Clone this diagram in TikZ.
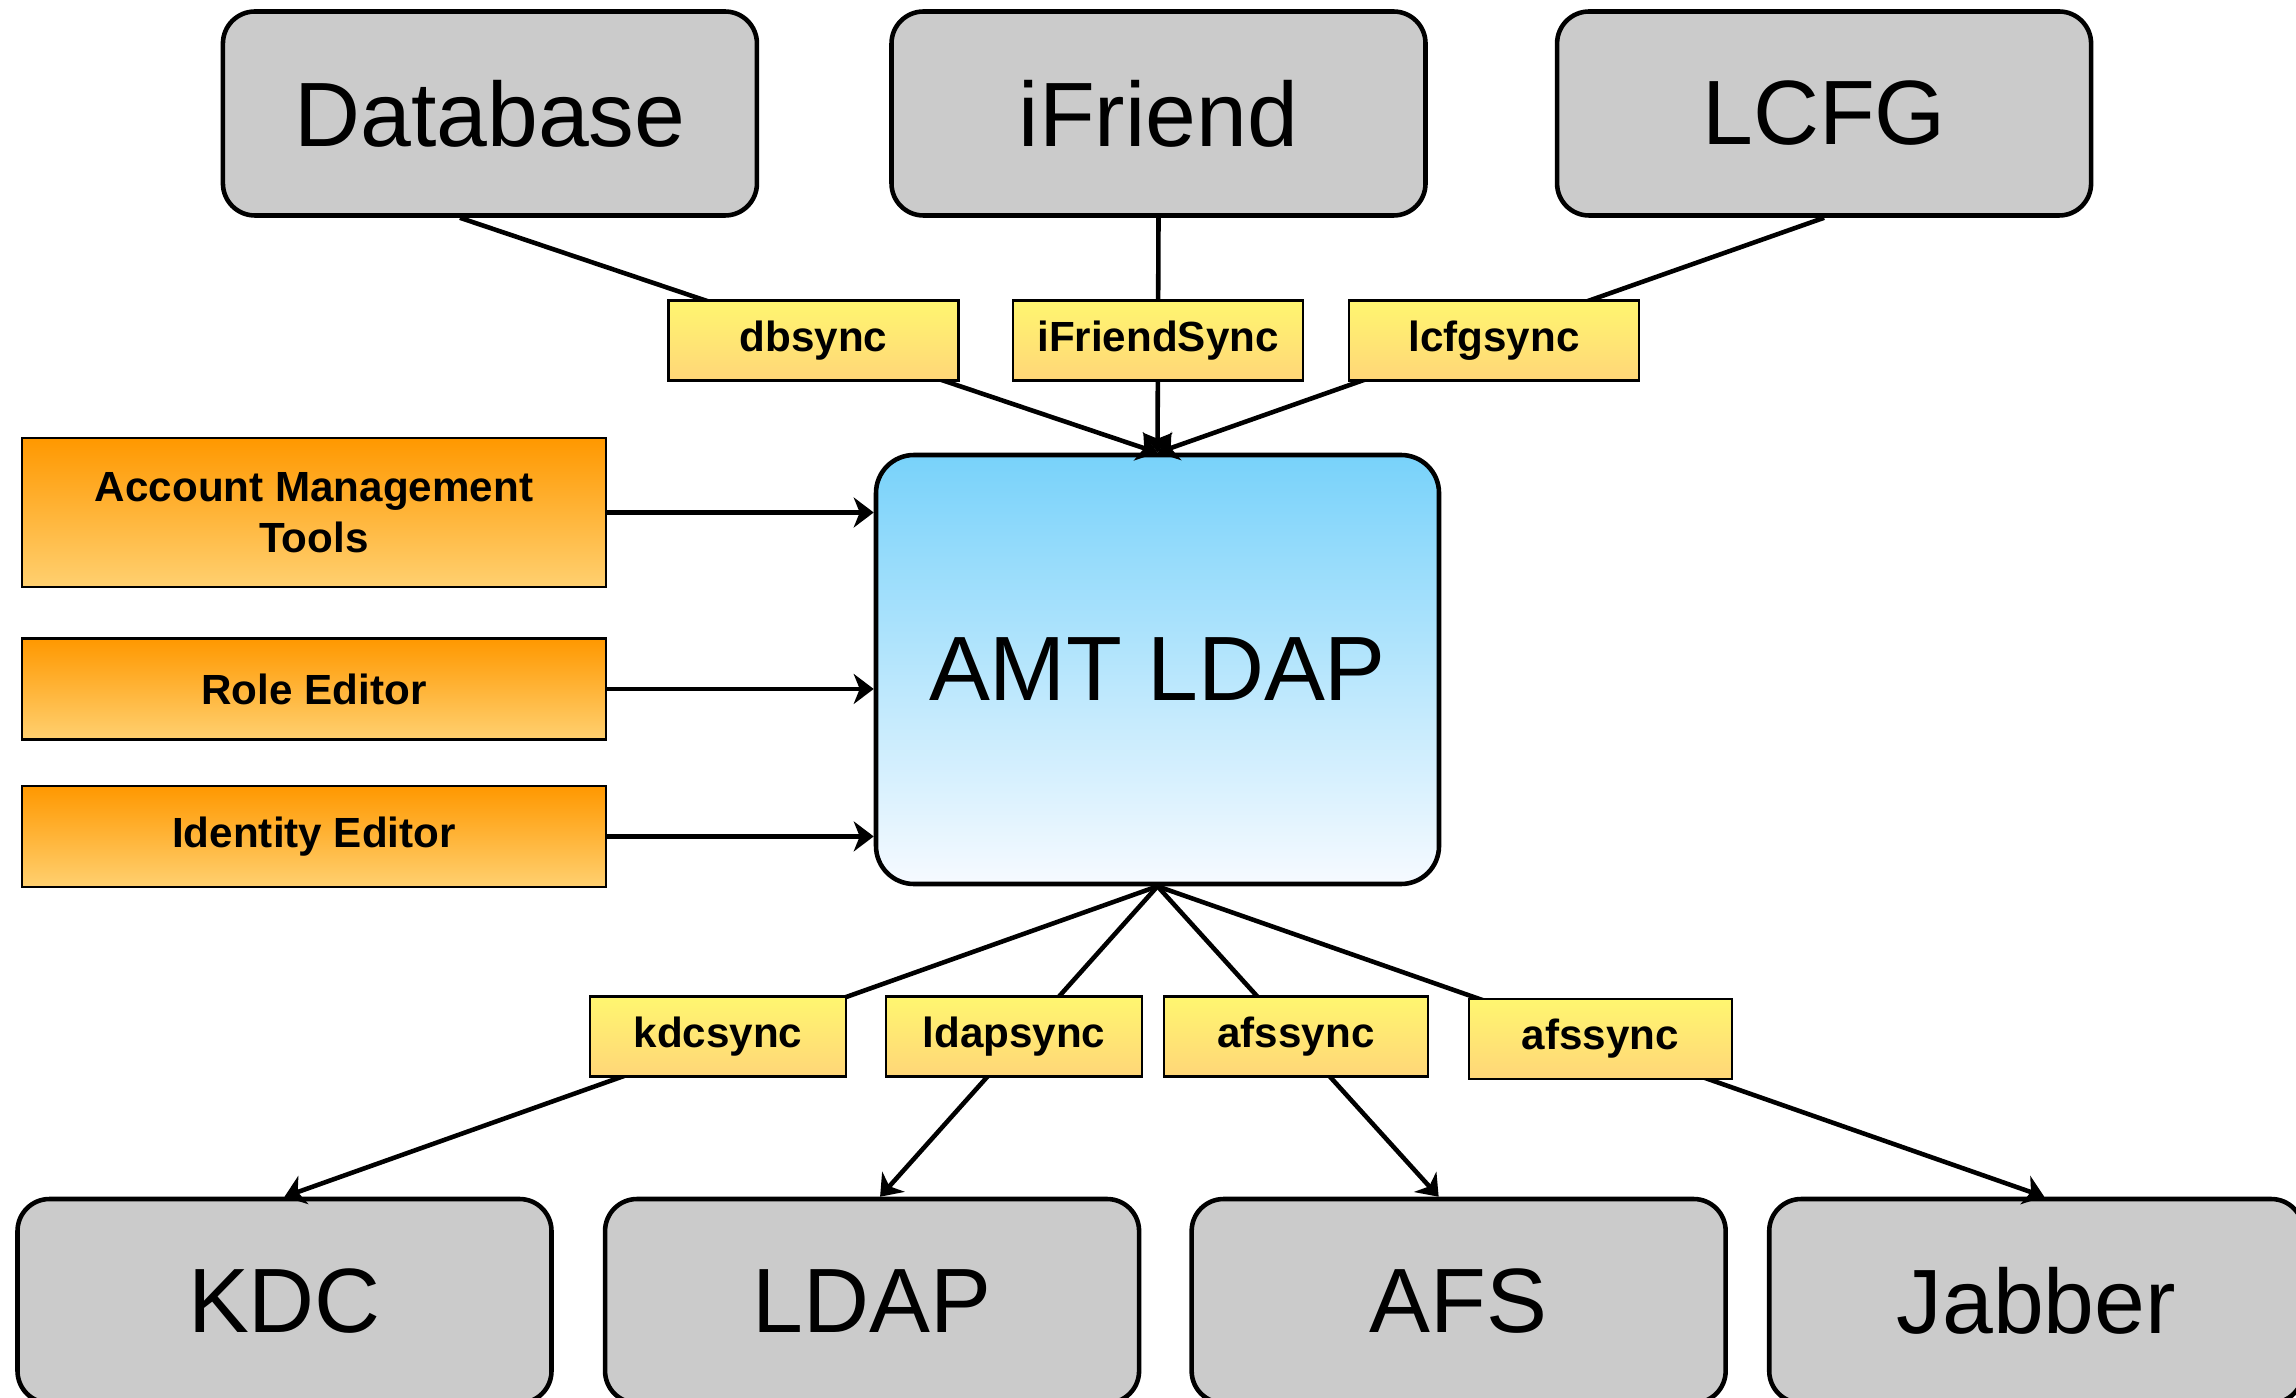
\documentclass[tikz,border=0pt]{standalone}
\usepackage{fontspec}
\setmainfont{Liberation Sans}
\usepackage{tikz}
\usetikzlibrary{shapes,arrows.meta,positioning,calc}
\definecolor{box-gray}{RGB}{203,203,203}
\definecolor{hub-top}{RGB}{120,210,250}
\definecolor{hub-bottom}{RGB}{246,250,255}
\definecolor{tool-top}{RGB}{255,152,0}
\definecolor{tool-bottom}{RGB}{255,208,112}
\definecolor{sync-top}{RGB}{255,246,112}
\definecolor{sync-bottom}{RGB}{255,214,120}

\begin{document}
\begin{tikzpicture}[
    node distance=0.5cm,
    system/.style={rectangle, rounded corners=0.32cm, draw, line width=1.3pt, fill=box-gray, minimum width=5.34cm, minimum height=2.04cm, align=center, font=\fontsize{26}{30}\selectfont},
    hub/.style={rectangle, rounded corners=0.38cm, draw, line width=1.3pt, top color=hub-top, bottom color=hub-bottom, minimum width=5.63cm, minimum height=4.29cm, align=center, font=\fontsize{26}{30}\selectfont},
    tool/.style={rectangle, draw, line width=0.7pt, top color=tool-top, bottom color=tool-bottom, minimum width=5.84cm, align=center, font=\fontsize{12}{14.5}\selectfont\bfseries},
    sync/.style={rectangle, draw, line width=0.7pt, top color=sync-top, bottom color=sync-bottom, minimum height=0.8cm, align=center, font=\fontsize{12}{14.5}\selectfont\bfseries},
    arrow/.style={-{Stealth[length=0.2cm, width=0.3cm, inset=0.06cm]}, line width=1.3pt}
]
\useasboundingbox (0,0) rectangle (22.96,-13.98);

% AMT LDAP
\node[hub] (amt) at (11.575,-6.695) {AMT LDAP};

% Sources
\node[system] (ifriend) at (11.585,-1.135) {iFriend};
\node[system, left=1.3cm of ifriend] (db) {Database};
\node[system, right=1.27cm of ifriend] (lcfg) {LCFG};

% Tools
\node[tool, minimum height=1.49cm] (amtools) at (3.14,-5.125) {Account Management\\Tools};
\node[tool, minimum height=1.01cm, below=0.49cm of amtools] (role) {Role Editor};
\node[tool, minimum height=1.01cm, below=0.44cm of role] (identity) {Identity Editor};

% Targets
\node[system] (kdc) at (2.845,-13.01) {KDC};
\node[system, right=0.49cm of kdc] (ldapsrv) {LDAP};
\node[system, right=0.48cm of ldapsrv] (afs) {AFS};
\node[system, right=0.39cm of afs] (jabber) {Jabber};

% Arrows
\draw[arrow] ([xshift=-0.3cm]db.south) -- (amt.north);
\draw[arrow] (ifriend.south) -- (amt.north);
\draw[arrow] (lcfg.south) -- (amt.north);
\draw[arrow] (amtools.east) -- (amtools.east -| amt.west);
\draw[arrow] (role.east) -- (role.east -| amt.west);
\draw[arrow] (identity.east) -- (identity.east -| amt.west);
\draw[arrow] (amt.south) -- (kdc.north);
\draw[arrow] (amt.south) -- ([xshift=0.08cm]ldapsrv.north);
\draw[arrow] (amt.south) -- ([xshift=-0.2cm]afs.north);
\draw[arrow] (amt.south) -- ([xshift=0.08cm]jabber.north);

% Sync jobs
\node[sync, minimum width=2.9cm] (dbsync) at (8.135,-3.405) {dbsync};
\node[sync, minimum width=2.9cm] (ifriendsync) at (11.58,-3.405) {iFriendSync};
\node[sync, minimum width=2.9cm] (lcfgsync) at (14.94,-3.405) {lcfgsync};
\node[sync, minimum width=2.56cm] (kdcsync) at (7.18,-10.365) {kdcsync};
\node[sync, minimum width=2.56cm] (ldapsync) at (10.14,-10.365) {ldapsync};
\node[sync, minimum width=2.64cm] (afssync) at (12.96,-10.365) {afssync};
\node[sync, minimum width=2.63cm] (jabbersync) at (16.005,-10.39) {afssync};

\end{tikzpicture}
\end{document}
